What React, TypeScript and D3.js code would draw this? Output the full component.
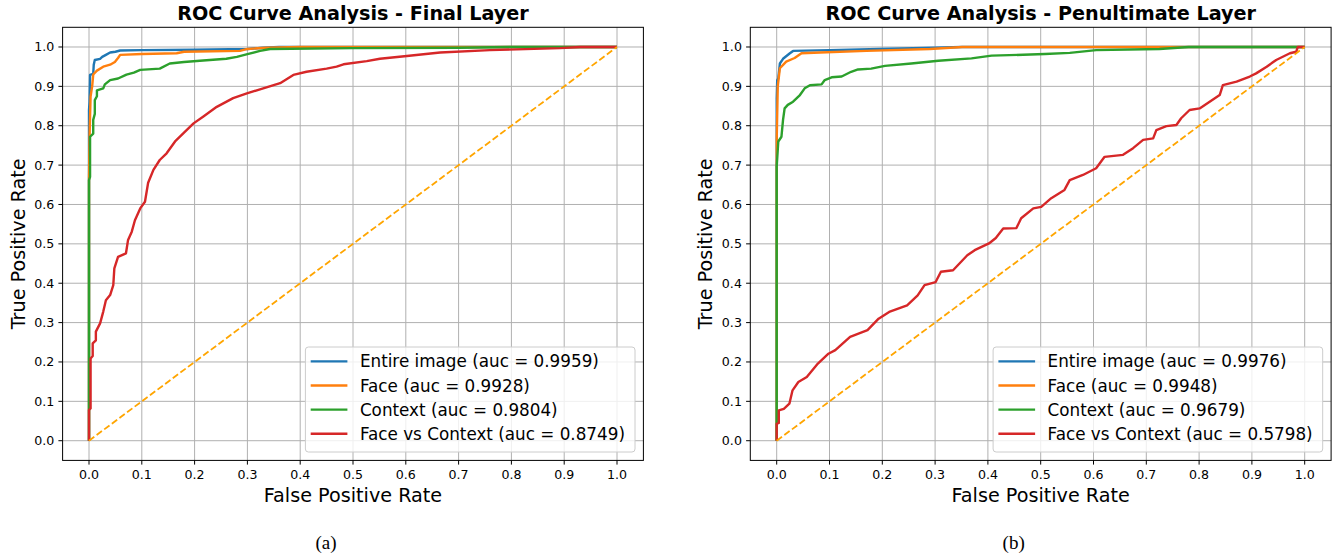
import React from "react";
import * as d3 from "d3";

type Pt = [number, number];

const seriesNames = ["Entire image", "Face", "Context", "Face vs Context"];
const seriesColors = ["#1f77b4", "#ff7f0e", "#2ca02c", "#d62728"];
const tickValues = [0, 0.1, 0.2, 0.3, 0.4, 0.5, 0.6, 0.7, 0.8, 0.9, 1.0];

const finalAuc = ["0.9959", "0.9928", "0.9804", "0.8749"];
const penAuc = ["0.9976", "0.9948", "0.9679", "0.5798"];

const finalEntire: Pt[] = [[0,0],[0,0.84],[0.001,0.86],[0.002,0.929],[0.008,0.932],[0.009,0.955],[0.011,0.967],[0.021,0.97],[0.025,0.975],[0.032,0.98],[0.04,0.986],[0.05,0.988],[0.059,0.991],[0.1,0.992],[0.2,0.993],[0.3,0.995],[0.33,0.998],[0.36,1],[1,1]];
const finalFace: Pt[] = [[0,0],[0,0.67],[0.001,0.77],[0.002,0.823],[0.003,0.874],[0.006,0.9],[0.008,0.93],[0.015,0.94],[0.027,0.95],[0.04,0.955],[0.049,0.962],[0.055,0.972],[0.059,0.98],[0.1,0.982],[0.166,0.984],[0.18,0.988],[0.286,0.99],[0.3,0.995],[0.336,0.998],[0.4,1],[1,1]];
const finalContext: Pt[] = [[0,0],[0,0.662],[0.002,0.67],[0.002,0.772],[0.008,0.78],[0.008,0.815],[0.011,0.83],[0.011,0.865],[0.015,0.875],[0.015,0.89],[0.027,0.895],[0.03,0.905],[0.04,0.916],[0.055,0.92],[0.071,0.93],[0.085,0.935],[0.097,0.942],[0.134,0.945],[0.153,0.958],[0.18,0.962],[0.21,0.965],[0.26,0.97],[0.28,0.975],[0.3,0.982],[0.324,0.99],[0.343,0.995],[0.5,0.997],[0.7,0.998],[0.8,1],[1,1]];
const finalFaceVsContext: Pt[] = [[0,0],[0,0.078],[0.003,0.082],[0.003,0.209],[0.007,0.215],[0.007,0.247],[0.013,0.255],[0.013,0.277],[0.021,0.298],[0.027,0.328],[0.032,0.357],[0.04,0.37],[0.046,0.395],[0.048,0.438],[0.055,0.467],[0.07,0.476],[0.074,0.51],[0.081,0.531],[0.087,0.56],[0.097,0.59],[0.106,0.607],[0.112,0.655],[0.122,0.688],[0.134,0.713],[0.147,0.73],[0.163,0.76],[0.179,0.781],[0.198,0.806],[0.216,0.823],[0.242,0.848],[0.273,0.87],[0.299,0.882],[0.33,0.895],[0.362,0.908],[0.387,0.929],[0.412,0.937],[0.45,0.945],[0.469,0.95],[0.482,0.956],[0.526,0.964],[0.551,0.97],[0.602,0.977],[0.665,0.986],[0.759,0.992],[0.892,0.997],[0.93,1],[1,1]];

const penEntire: Pt[] = [[0,0],[0,0.87],[0.001,0.916],[0.003,0.92],[0.006,0.958],[0.012,0.97],[0.025,0.984],[0.031,0.99],[0.1,0.992],[0.195,0.995],[0.3,0.998],[0.35,1],[1,1]];
const penFace: Pt[] = [[0,0],[0,0.764],[0.002,0.9],[0.006,0.946],[0.018,0.963],[0.034,0.972],[0.047,0.984],[0.082,0.986],[0.17,0.99],[0.29,0.995],[0.352,1],[1,1]];
const penContext: Pt[] = [[0,0],[0,0.696],[0.003,0.76],[0.009,0.772],[0.012,0.815],[0.015,0.844],[0.021,0.853],[0.031,0.861],[0.044,0.878],[0.053,0.895],[0.063,0.903],[0.085,0.905],[0.091,0.916],[0.104,0.923],[0.123,0.925],[0.141,0.937],[0.154,0.943],[0.179,0.945],[0.205,0.952],[0.255,0.958],[0.306,0.965],[0.369,0.971],[0.407,0.978],[0.508,0.982],[0.555,0.985],[0.605,0.992],[0.725,0.995],[0.78,1],[1,1]];
const penFaceVsContext: Pt[] = [[0,0],[0,0.043],[0.004,0.045],[0.004,0.077],[0.0135,0.081],[0.024,0.094],[0.03,0.128],[0.041,0.149],[0.057,0.162],[0.078,0.196],[0.098,0.221],[0.111,0.23],[0.139,0.264],[0.172,0.281],[0.193,0.31],[0.213,0.327],[0.247,0.344],[0.267,0.369],[0.28,0.395],[0.301,0.403],[0.311,0.429],[0.334,0.433],[0.361,0.471],[0.375,0.484],[0.402,0.501],[0.415,0.515],[0.429,0.539],[0.454,0.54],[0.463,0.565],[0.486,0.59],[0.501,0.594],[0.52,0.616],[0.545,0.637],[0.555,0.662],[0.58,0.675],[0.605,0.692],[0.621,0.721],[0.656,0.726],[0.675,0.743],[0.694,0.764],[0.713,0.768],[0.719,0.789],[0.738,0.799],[0.757,0.802],[0.766,0.819],[0.782,0.84],[0.801,0.844],[0.82,0.861],[0.839,0.878],[0.845,0.903],[0.871,0.912],[0.896,0.925],[0.908,0.933],[0.928,0.95],[0.946,0.967],[0.972,0.984],[0.984,0.988],[0.987,1],[1,1]];

const diagonal: Pt[] = [[0,0],[1,1]];

const W = 1343;
const H = 559;
const TOP = 27.3;
const BOTTOM = 460.4;
const FONT = "DejaVu Sans, sans-serif";

interface PanelProps {
  left: number;
  right: number;
  title: string;
  caption: string;
  aucs: string[];
  series: Pt[][];
}

function Panel({ left, right, title, caption, aucs, series }: PanelProps) {
  const x = d3.scaleLinear().domain([-0.05, 1.05]).range([left, right]);
  const y = d3.scaleLinear().domain([-0.05, 1.05]).range([BOTTOM, TOP]);
  const line = d3.line<Pt>().x((d) => x(d[0])).y((d) => y(d[1]));
  const fmt = d3.format(".1f");
  const cx = (left + right) / 2;
  const cy = (TOP + BOTTOM) / 2;
  const legW = 329.6;
  const legH = 105;
  const legX = right - 8.4 - legW;
  const legY = BOTTOM - 8.4 - legH;
  const clipId = `clip-${Math.round(left)}`;
  return (
    <g>
      <defs>
        <clipPath id={clipId}>
          <rect x={left} y={TOP} width={right - left} height={BOTTOM - TOP} />
        </clipPath>
      </defs>
      {/* grid */}
      {tickValues.map((t) => (
        <line key={`gx${t}`} x1={x(t)} x2={x(t)} y1={TOP} y2={BOTTOM} stroke="#b0b0b0" strokeWidth={1} />
      ))}
      {tickValues.map((t) => (
        <line key={`gy${t}`} x1={left} x2={right} y1={y(t)} y2={y(t)} stroke="#b0b0b0" strokeWidth={1} />
      ))}
      {/* series */}
      <g clipPath={`url(#${clipId})`}>
        {series.map((s, i) => (
          <path key={i} d={line(s) || ""} fill="none" stroke={seriesColors[i]} strokeWidth={2.4} strokeLinejoin="round" />
        ))}
        <path d={line(diagonal) || ""} fill="none" stroke="#ffa500" strokeWidth={1.8} strokeDasharray="6.6,2.9" />
      </g>
      {/* spines */}
      <rect x={left} y={TOP} width={right - left} height={BOTTOM - TOP} fill="none" stroke="#000" strokeWidth={1} />
      {/* ticks */}
      {tickValues.map((t) => (
        <g key={`tx${t}`}>
          <line x1={x(t)} x2={x(t)} y1={BOTTOM} y2={BOTTOM + 4.2} stroke="#000" strokeWidth={1} />
          <text x={x(t)} y={478.6} textAnchor="middle" fontFamily={FONT} fontSize={12.6} fill="#000">{fmt(t)}</text>
        </g>
      ))}
      {tickValues.map((t) => (
        <g key={`ty${t}`}>
          <line x1={left - 4.2} x2={left} y1={y(t)} y2={y(t)} stroke="#000" strokeWidth={1} />
          <text x={left - 8.4} y={y(t) + 4.5} textAnchor="end" fontFamily={FONT} fontSize={12.6} fill="#000">{fmt(t)}</text>
        </g>
      ))}
      {/* labels */}
      <text x={cx} y={20} textAnchor="middle" fontFamily={FONT} fontWeight="bold" fontSize={19.2} fill="#000">{title}</text>
      <text x={cx} y={502} textAnchor="middle" fontFamily={FONT} fontSize={19.2} fill="#000">False Positive Rate</text>
      <text transform={`translate(${left - 38},${cy}) rotate(-90)`} textAnchor="middle" fontFamily={FONT} fontSize={19.2} fill="#000">True Positive Rate</text>
      <text x={cx - 27} y={549} textAnchor="middle" fontFamily="Liberation Serif, serif" fontSize={19} fill="#000">{caption}</text>
      {/* legend */}
      <rect x={legX} y={legY} width={legW} height={legH} rx={3} ry={3} fill="#fff" fillOpacity={0.8} stroke="#cccccc" strokeWidth={1} />
      {seriesNames.map((n, i) => {
        const ry = legY + 14.4 + i * 24.1;
        return (
          <g key={n}>
            <line x1={legX + 5.3} x2={legX + 42} y1={ry} y2={ry} stroke={seriesColors[i]} strokeWidth={2.4} />
            <text x={legX + 54.5} y={ry + 6} fontFamily={FONT} fontSize={16.8} fill="#000">{`${n} (auc = ${aucs[i]})`}</text>
          </g>
        );
      })}
    </g>
  );
}

export default function App() {
  return (
    <svg width={W} height={H} style={{ position: "absolute", left: 0, top: 0, background: "#fff" }}>
      <rect x={0} y={0} width={W} height={H} fill="#fff" />
      <Panel left={62.6} right={643.4} title="ROC Curve Analysis - Final Layer" caption="(a)" aucs={finalAuc}
        series={[finalEntire, finalFace, finalContext, finalFaceVsContext]} />
      <Panel left={750.3} right={1331.1} title="ROC Curve Analysis - Penultimate Layer" caption="(b)" aucs={penAuc}
        series={[penEntire, penFace, penContext, penFaceVsContext]} />
    </svg>
  );
}
